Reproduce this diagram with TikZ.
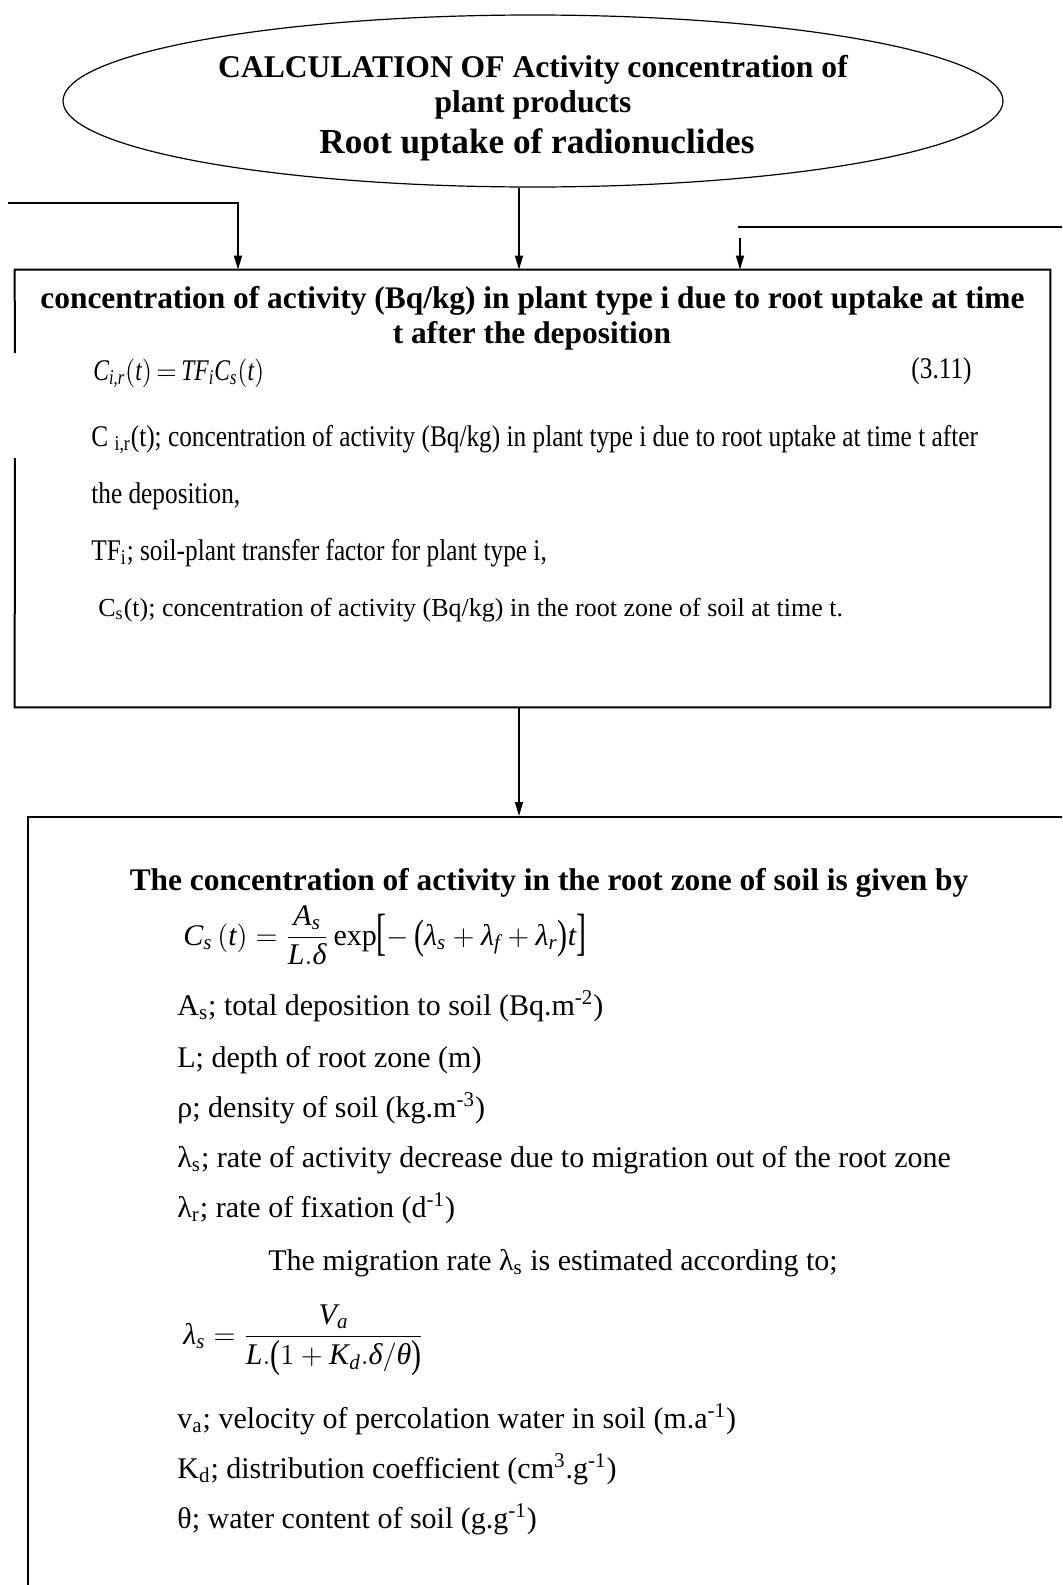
\documentclass[tikz,border=0pt]{standalone}
\usepackage{amsmath}
\usepackage{graphicx}
\usepackage{fontspec}
\setmainfont{Liberation Serif}
\newfontfamily\narrowserif[FakeStretch=0.843]{Liberation Serif}
\usetikzlibrary{shapes.geometric,arrows.meta}
\newcommand{\iv}[1]{\textit{#1}}
\newcommand{\tall}[3]{\raisebox{#1}{\scalebox{1}[#2]{#3}}}

\begin{document}
\begin{tikzpicture}[x=0.5pt,y=-0.5pt]
    \tikzstyle{frame}=[draw, line width=1pt, rectangle, inner sep=0pt]
    \tikzstyle{arr}=[line width=0.75pt, -{Triangle[length=7pt,width=4pt]}]
    \tikzstyle{wire}=[line width=0.75pt]
    \tikzstyle{head}=[inner sep=0pt, anchor=base, font=\bfseries\fontsize{15.7}{18}\selectfont]
    \tikzstyle{narrow}=[inner sep=0pt, anchor=base west, font=\narrowserif\fontsize{15}{18}\selectfont]
    \tikzstyle{plain}=[inner sep=0pt, anchor=base west, font=\fontsize{15}{18}\selectfont]

    \path[use as bounding box, clip] (0,0) rectangle (1062,1585);

    % title
    \node[ellipse, draw, line width=0.6pt, minimum width=470pt, minimum height=86pt] (title) at (533,101) {};
    \node[head, font=\bfseries\fontsize{15.8}{18}\selectfont] (t1) at (533,77) {CALCULATION OF Activity concentration of};
    \node[head, font=\bfseries\fontsize{15.8}{18}\selectfont] (t2) at (533,112) {plant products};
    \node[head, font=\bfseries\fontsize{17.6}{20}\selectfont] (t3) at (537,153) {Root uptake of radionuclides};

    % plant box
    \node[minimum width=517.5pt, minimum height=218.5pt, inner sep=0pt] (uptake) at (532.5,488.5) {};
    \coordinate (gapTop) at (15,353);
    \coordinate (gapBot) at (15,458);
    \draw[line width=1pt] (gapBot) -- (uptake.south west) -- (uptake.south east) -- (uptake.north east) -- (uptake.north west) -- (gapTop);
    \node[head] (h1) at (532.5,308) {concentration of activity (Bq/kg) in plant type i due to root uptake at time};
    \node[head] (h2) at (532,343) {t after the deposition};
    \node[narrow] (eq1) at (93,380) {\scalebox{0.93}[1]{$\iv{C}_{\iv{i,r}}(\iv{t})\,{=}\,\iv{TF}_{\iv{i}}\iv{C}_{\iv{s}}(\iv{t})$}};
    \node[narrow, anchor=base east] (num) at (972,378) {(3.11)};
    \node[narrow] (l1) at (91,446) {C \textsubscript{i,r}(t); concentration of activity (Bq/kg) in plant type i due to root uptake at time t after};
    \node[narrow] (l2) at (91,503) {the deposition,};
    \node[narrow] (l3) at (91,560) {TF\textsubscript{i}; soil-plant transfer factor for plant type i,};
    \node[plain, font=\fontsize{13}{16}\selectfont] (l4) at (98,616) {C\textsubscript{s}(t); concentration of activity (Bq/kg) in the root zone of soil at time t.};

    % soil box
    \node[frame, minimum width=531pt, minimum height=396.5pt] (soil) at (559,1213.5) {};
    \node[head] (h3) at (549,890) {The concentration of activity in the root zone of soil is given by};
    \node[plain] (eq2) at (183,945) {$\iv{C}_{\iv{s}}\,(\iv{t})=\dfrac{\iv{A}_{\iv{s}}}{\iv{L}.\iv{δ}}\,\textrm{exp}\tall{-2pt}{1.7}{[}{-}\,\tall{-1.5pt}{1.37}{(}\iv{λ}_{\iv{s}}+\iv{λ}_{\iv{f}}+\iv{λ}_{\iv{r}}\tall{-1.5pt}{1.37}{)}\iv{t}\tall{-2pt}{1.7}{]}$};
    \node[plain] (d1) at (177,1015) {A\textsubscript{s}; total deposition to soil (Bq.m\textsuperscript{-2})};
    \node[plain] (d2) at (177,1067) {L; depth of root zone (m)};
    \node[plain] (d3) at (177,1117) {ρ; density of soil (kg.m\textsuperscript{-3})};
    \node[plain] (d4) at (177,1167) {λ\textsubscript{s}; rate of activity decrease due to migration out of the root zone};
    \node[plain] (d5) at (177,1217) {λ\textsubscript{r}; rate of fixation (d\textsuperscript{-1})};
    \node[plain] (d6) at (268,1270) {The migration rate λ\textsubscript{s} is estimated according to;};
    \node[plain] (eq3) at (183,1344) {$\iv{λ}_{\iv{s}}=\dfrac{\iv{V}_{\iv{a}}}{\iv{L}.\tall{-1.5pt}{1.3}{(}1+\iv{K}_{\iv{d}}.\iv{δ}/\iv{θ}\tall{-1.5pt}{1.3}{)}}$};
    \node[plain] (d7) at (177,1428) {v\textsubscript{a}; velocity of percolation water in soil (m.a\textsuperscript{-1})};
    \node[plain] (d8) at (177,1478) {K\textsubscript{d}; distribution coefficient (cm\textsuperscript{3}.g\textsuperscript{-1})};
    \node[plain] (d9) at (177,1528) {θ; water content of soil (g.g\textsuperscript{-1})};

    % connectors
    \coordinate (feedL) at (8,203);
    \coordinate (feedR) at (1062,227);
    \coordinate (feedRend) at (738,227);
    \coordinate (dropR) at (740,238);
    \draw[arr] (feedL) -| (238,0 |- uptake.north);
    \draw[arr] (519,0 |- title.south) -- (519,0 |- uptake.north);
    \draw[wire] (feedR) -- (feedRend);
    \draw[arr] (dropR) -- (dropR |- uptake.north);
    \draw[arr] (519,0 |- uptake.south) -- (519,0 |- soil.north);
\end{tikzpicture}
\end{document}
